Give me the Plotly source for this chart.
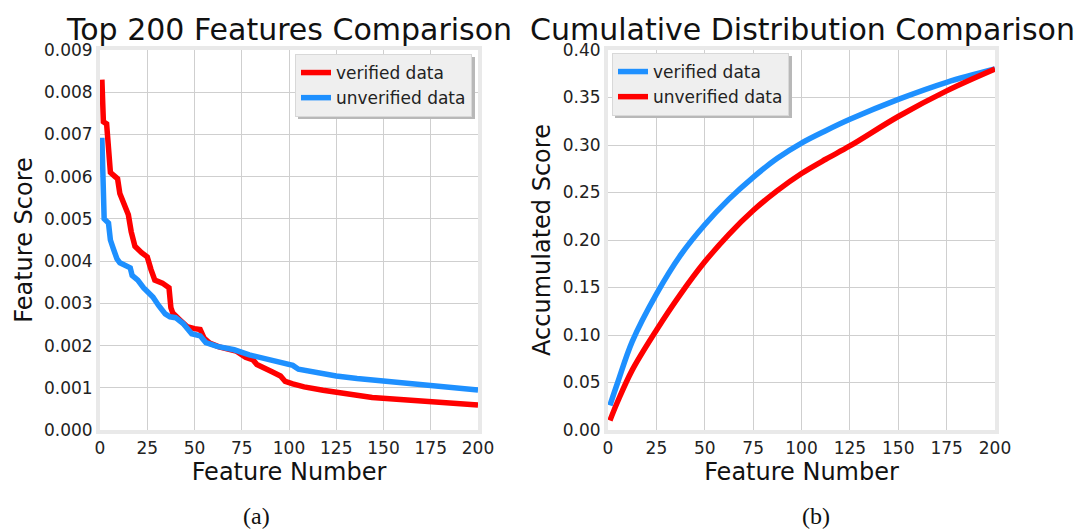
import plotly.graph_objects as go

# ---- data (a): top-200 feature scores ----
ver_x = [1, 1.8, 3.5, 4.5, 5.5, 8, 9.3, 10.5, 12, 14, 15, 16.5, 18.5, 22, 25, 27, 29, 33, 36.5,
         37.5, 38.5, 42, 46, 50, 53, 55, 58, 63, 68, 72, 77, 81, 83, 88, 91, 95.5, 98, 102, 108,
         118, 125, 133, 144, 157, 175, 188, 200]
ver_y = [8.3, 7.3, 7.25, 6.6, 6.1, 6.0, 5.95, 5.6, 5.4, 5.2, 5.1, 4.7, 4.35, 4.2, 4.1, 3.8, 3.55,
         3.48, 3.37, 2.9, 2.77, 2.62, 2.45, 2.4, 2.38, 2.18, 2.06, 1.97, 1.9, 1.87, 1.72, 1.66,
         1.55, 1.46, 1.38, 1.28, 1.15, 1.09, 1.02, 0.94, 0.89, 0.83, 0.77, 0.73, 0.67, 0.63, 0.59]
unv_x = [1, 2.2, 4.5, 5.5, 7, 9, 10.5, 14, 16, 17, 20, 23, 28, 31, 34.5, 37, 40, 44, 48.5, 53,
         56, 62, 71, 79, 85, 90, 94, 100, 102, 105, 113, 125, 136, 150, 164, 177, 188, 200]
unv_y = [6.92, 5.0, 4.9, 4.5, 4.3, 4.05, 3.96, 3.88, 3.84, 3.66, 3.55, 3.37, 3.15, 2.95, 2.75,
         2.68, 2.66, 2.52, 2.28, 2.23, 2.07, 1.98, 1.9, 1.78, 1.72, 1.64, 1.6, 1.55, 1.53, 1.44,
         1.37, 1.28, 1.22, 1.16, 1.09, 1.05, 0.99, 0.95]
ver_y = [v / 1000 for v in ver_y]
unv_y = [v / 1000 for v in unv_y]

# ---- data (b): cumulative distribution ----
cum_x = [1, 5, 12.5, 25, 37.5, 50, 62.5, 75, 87.5, 100, 112.5, 125, 150, 175, 200]
cum_ver = [0.026, 0.050, 0.093, 0.143, 0.184, 0.216, 0.243, 0.266, 0.286, 0.302, 0.315, 0.327,
           0.348, 0.366, 0.380]
cum_unv = [0.010, 0.030, 0.063, 0.105, 0.143, 0.177, 0.206, 0.231, 0.252, 0.270, 0.285, 0.299,
           0.330, 0.357, 0.380]

x_ticks = [0, 25, 50, 75, 100, 125, 150, 175, 200]

RED = "#ff0000"
BLUE = "#1e90ff"
FONT = "DejaVu Sans"
W, H = 1075, 531

fig = go.Figure()
fig.add_trace(go.Scatter(x=ver_x, y=ver_y, mode="lines", name="verified data",
                         line=dict(color=RED, width=5.5), xaxis="x", yaxis="y", legend="legend"))
fig.add_trace(go.Scatter(x=unv_x, y=unv_y, mode="lines", name="unverified data",
                         line=dict(color=BLUE, width=5.5), xaxis="x", yaxis="y", legend="legend"))
fig.add_trace(go.Scatter(x=cum_x, y=cum_ver, mode="lines", name="verified data",
                         line=dict(color=BLUE, width=5.5, shape="spline"), xaxis="x2", yaxis="y2",
                         legend="legend2"))
fig.add_trace(go.Scatter(x=cum_x, y=cum_unv, mode="lines", name="unverified data",
                         line=dict(color=RED, width=5.5, shape="spline"), xaxis="x2", yaxis="y2",
                         legend="legend2"))

ydom = [1 - 430 / H, 1 - 50 / H]
common = dict(showgrid=True, gridcolor="#cfcfcf", gridwidth=1, zeroline=False, automargin=False,
              showline=True, linecolor="#e9e9e9", linewidth=4, mirror=True, ticks="",
              tickfont=dict(family=FONT, size=17, color="#222222"))
title_font = dict(family=FONT, size=24, color="#111111")

# legend boxes (pixels): left, top, right, bottom
LEG1 = (295, 54, 472, 116)
LEG2 = (612, 53, 789, 115)

fig.update_layout(
    width=W, height=H,
    margin=dict(l=0, r=0, t=0, b=0, autoexpand=False),
    paper_bgcolor="white", plot_bgcolor="white",
    xaxis=dict(domain=[100 / W, 478 / W], range=[0, 200], tickvals=x_ticks, anchor="y",
               title=dict(text="Feature Number", font=title_font, standoff=6), **common),
    yaxis=dict(domain=ydom, range=[0, 0.009], dtick=0.001, tickformat=".3f", anchor="x",
               title=dict(text="Feature Score", font=title_font, standoff=6), **common),
    xaxis2=dict(domain=[608 / W, 995 / W], range=[0, 200], tickvals=x_ticks, anchor="y2",
                title=dict(text="Feature Number", font=title_font, standoff=6), **common),
    yaxis2=dict(domain=ydom, range=[0, 0.40], dtick=0.05, tickformat=".2f", anchor="x2",
                title=dict(text="Accumulated Score", font=title_font, standoff=6), **common),
    legend=dict(x=LEG1[2] / W, y=1 - LEG1[1] / H, xanchor="right", yanchor="top",
                bgcolor="#efefef", bordercolor="#d8d8d8", borderwidth=1,
                font=dict(family=FONT, size=17, color="#222222")),
    legend2=dict(x=LEG2[0] / W, y=1 - LEG2[1] / H, xanchor="left", yanchor="top",
                 bgcolor="#efefef", bordercolor="#d8d8d8", borderwidth=1,
                 font=dict(family=FONT, size=17, color="#222222")),
    showlegend=True,
)

# soft drop shadows behind the legend boxes
for (l, t, r, b) in (LEG1, LEG2):
    fig.add_shape(type="rect", xref="paper", yref="paper", layer="above",
                  x0=(l + 3) / W, x1=(r + 3) / W, y0=1 - (b + 3) / H, y1=1 - (t + 3) / H,
                  fillcolor="#b8b8b8", line=dict(width=0))

fig.add_annotation(text="Top 200 Features Comparison", xref="paper", yref="paper",
                   x=289 / W, y=1 - 29 / H, xanchor="center", yanchor="middle", showarrow=False,
                   font=dict(family=FONT, size=30, color="#111111"))
fig.add_annotation(text="Cumulative Distribution Comparison", xref="paper", yref="paper",
                   x=802 / W, y=1 - 29 / H, xanchor="center", yanchor="middle", showarrow=False,
                   font=dict(family=FONT, size=30, color="#111111"))
fig.add_annotation(text="(a)", xref="paper", yref="paper", x=256 / W, y=1 - 516 / H,
                   xanchor="center", yanchor="middle", showarrow=False,
                   font=dict(family="Liberation Serif", size=24, color="#111111"))
fig.add_annotation(text="(b)", xref="paper", yref="paper", x=816 / W, y=1 - 516 / H,
                   xanchor="center", yanchor="middle", showarrow=False,
                   font=dict(family="Liberation Serif", size=24, color="#111111"))

fig.write_html("out.html")
